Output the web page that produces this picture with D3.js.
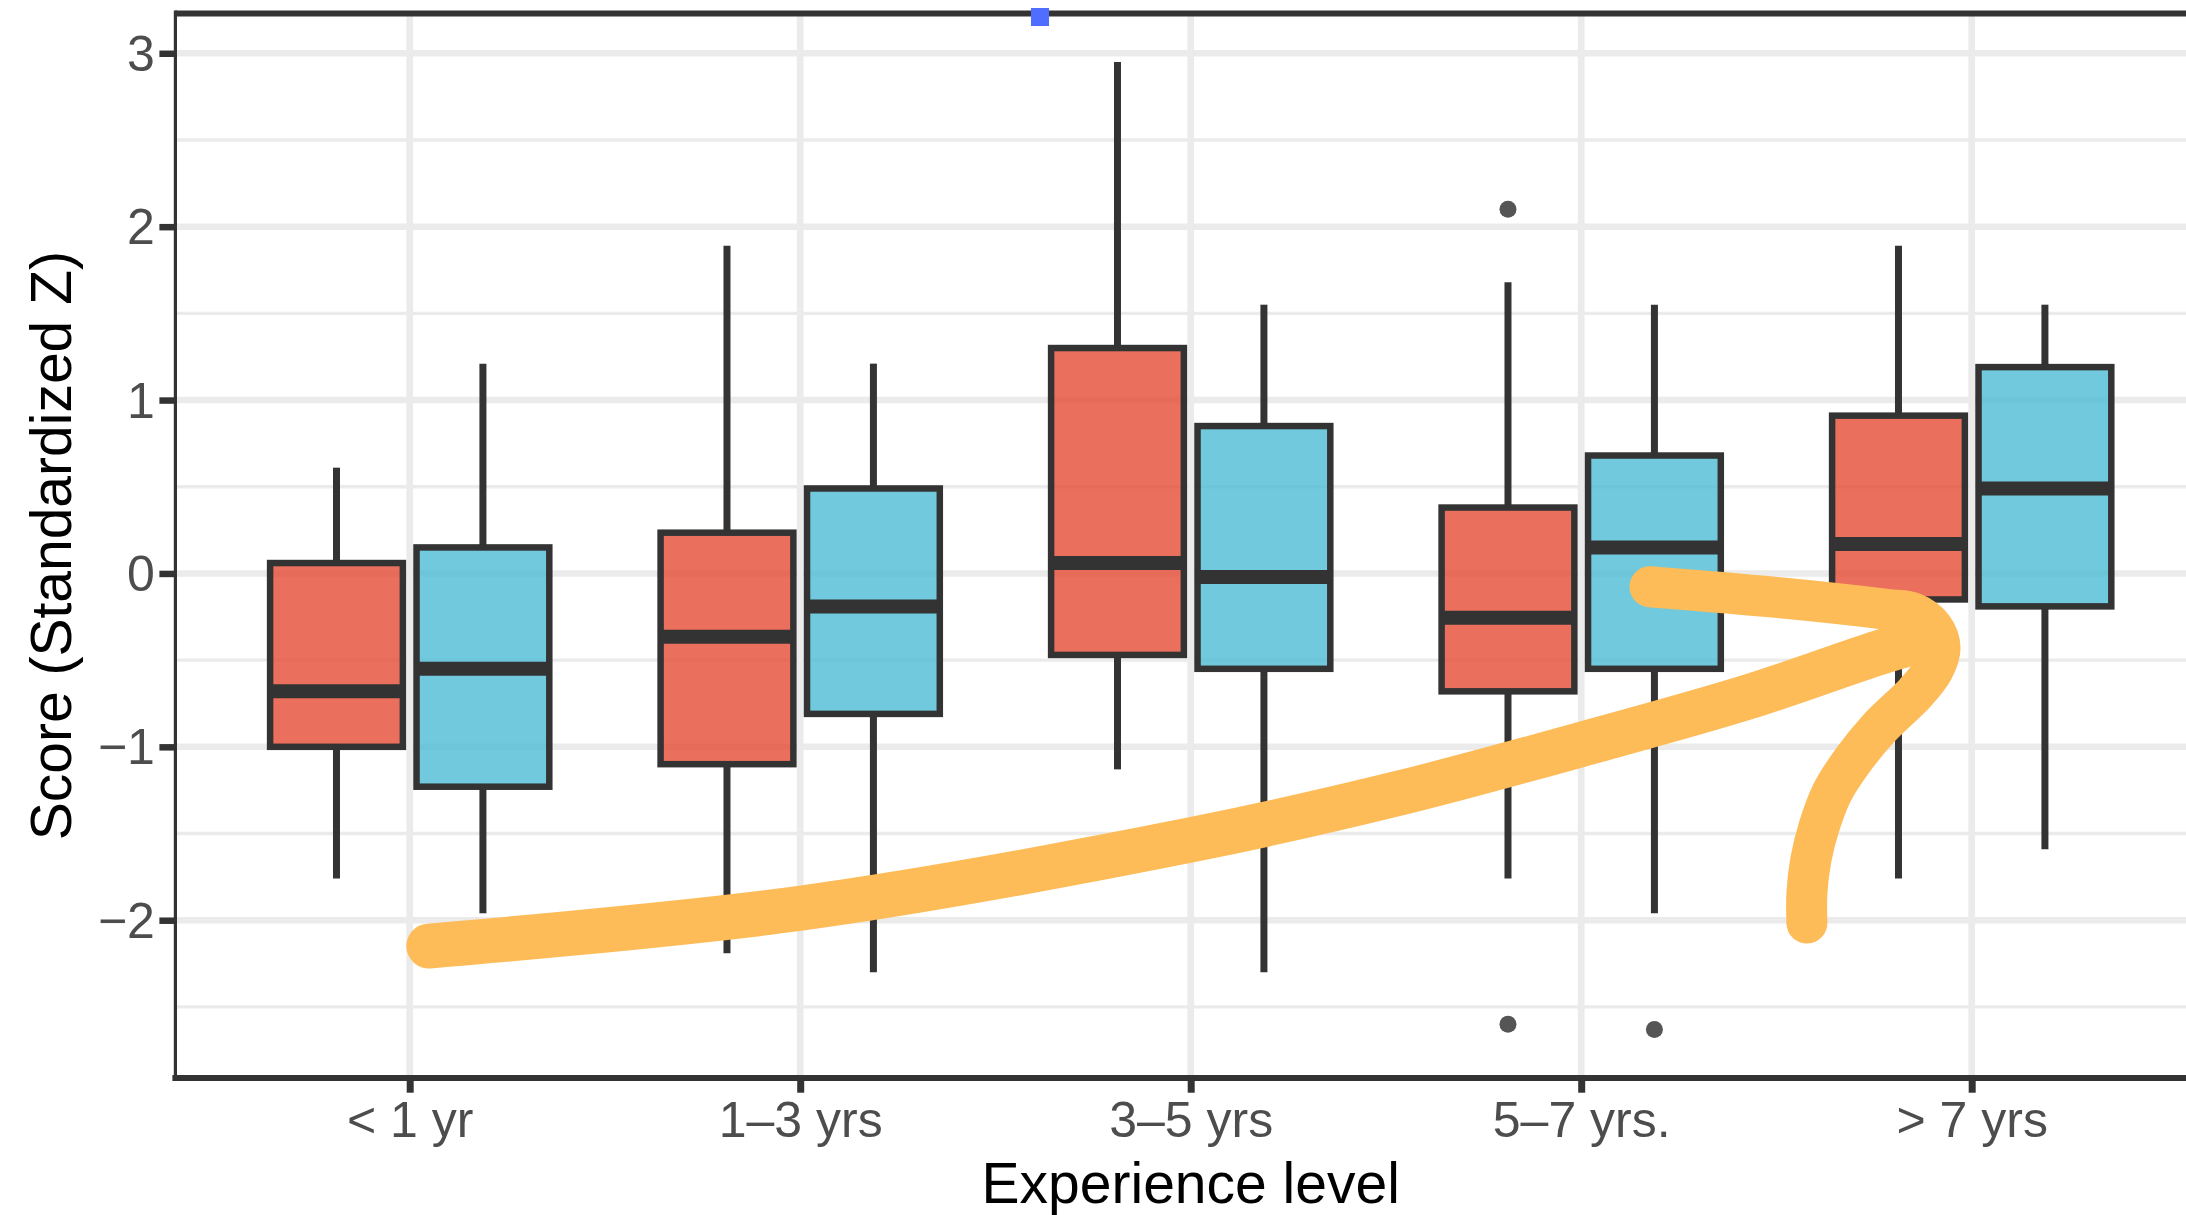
<!DOCTYPE html>
<html lang="en">
	<head>
		<meta charset="utf-8">
		<title>Score by experience level</title>
		<script src="https://d3js.org/d3.v7.min.js"></script>
		<style>
			body { margin: 0; background: #fff; }
			text { font-family: "Liberation Sans", Arial, sans-serif; }
		</style>
	</head>
	<body>
		<script type="text/javascript">

			// categories and tick values
			var categories = ["< 1 yr", "1\u20133 yrs", "3\u20135 yrs", "5\u20137 yrs.", "> 7 yrs"];
			var yTicks = [-2, -1, 0, 1, 2, 3];
			var yMinor = [-2.5, -1.5, -0.5, 0.5, 1.5, 2.5];

			// red series: whisker low, Q1, median, Q3, whisker high
			var redLow  = [-1.76, -2.19, -1.13, -1.76, -1.76];
			var redQ1   = [-1.00, -1.10, -0.47, -0.68, -0.15];
			var redMed  = [-0.68, -0.365, 0.06, -0.255, 0.17];
			var redQ3   = [0.06, 0.235, 1.30, 0.38, 0.91];
			var redHigh = [0.61, 1.89, 2.95, 1.68, 1.89];

			// blue series
			var blueLow  = [-1.96, -2.30, -2.30, -1.96, -1.59];
			var blueQ1   = [-1.23, -0.81, -0.55, -0.55, -0.19];
			var blueMed  = [-0.55, -0.19, -0.02, 0.15, 0.49];
			var blueQ3   = [0.15, 0.49, 0.85, 0.68, 1.19];
			var blueHigh = [1.21, 1.21, 1.55, 1.55, 1.55];

			// outliers: [category index, value]
			var redOutliers  = [[3, 2.10], [3, -2.60]];
			var blueOutliers = [[3, -2.63]];

			// hand drawn arrow, in (category index, value) units
			var arrowShaft = [[0.049, -2.149], [1.0, -1.931], [2.0, -1.537], [2.536, -1.266],
				[3.002, -0.985], [3.435, -0.707], [3.768, -0.453], [3.893, -0.373]];
			var arrowHook = [[3.176, -0.077], [3.526, -0.144], [3.782, -0.207], [3.850, -0.228],
				[3.901, -0.315], [3.919, -0.430], [3.901, -0.557], [3.855, -0.690], [3.765, -0.886],
				[3.696, -1.076], [3.642, -1.266], [3.609, -1.462], [3.588, -1.653], [3.578, -1.843],
				[3.578, -2.016]];

			var w = 2186;
			var h = 1215;
			var panel = {left: 175.4, top: 13.4, right: 2206, bottom: 1078};

			var svg = d3.select("body")
			  .append("svg")
			    .attr("width", w)
			    .attr("height", h);

			svg.append("rect").attr("width", w).attr("height", h).attr("fill", "white");

			// scales
			var xScale = d3.scalePoint()
			    .domain(d3.range(categories.length))
			    .range([panel.left, panel.right])
			    .padding(0.6);
			var step = xScale.step();
			var yScale = d3.scaleLinear()
			    .domain([-2.91, 3.23])
			    .range([panel.bottom, panel.top]);
			var xIdx = d3.scaleLinear().domain([0, 1]).range([xScale(0), xScale(1)]);

			// grid
			var grid = svg.append("g").attr("stroke", "#EBEBEB");
			grid.selectAll("line.minor").data(yMinor).enter().append("line")
			    .attr("x1", panel.left).attr("x2", w)
			    .attr("y1", d => yScale(d)).attr("y2", d => yScale(d))
			    .attr("stroke-width", 3.4);
			grid.selectAll("line.major").data(yTicks).enter().append("line")
			    .attr("x1", panel.left).attr("x2", w)
			    .attr("y1", d => yScale(d)).attr("y2", d => yScale(d))
			    .attr("stroke-width", 6.5);
			grid.selectAll("line.vert").data(d3.range(categories.length)).enter().append("line")
			    .attr("x1", d => xScale(d)).attr("x2", d => xScale(d))
			    .attr("y1", panel.top).attr("y2", panel.bottom)
			    .attr("stroke-width", 6.7);

			// boxes
			var boxW = 0.34 * step;
			var offset = 0.1875 * step;
			var series = [
				{fill: "#E64B35", dx: -offset, low: redLow, q1: redQ1, med: redMed, q3: redQ3, high: redHigh, out: redOutliers},
				{fill: "#4DBBD5", dx: offset, low: blueLow, q1: blueQ1, med: blueMed, q3: blueQ3, high: blueHigh, out: blueOutliers}
			];

			series.forEach(function(s) {
				var g = svg.append("g");
				var rows = categories.map((c, i) => ({i: i, low: s.low[i], q1: s.q1[i], med: s.med[i], q3: s.q3[i], high: s.high[i]}));
				var cx = d => xScale(d.i) + s.dx;

				g.selectAll("line.wup").data(rows).enter().append("line")
				    .attr("x1", cx).attr("x2", cx)
				    .attr("y1", d => yScale(d.q3)).attr("y2", d => yScale(d.high))
				    .attr("stroke", "#333333").attr("stroke-width", 7);
				g.selectAll("line.wdn").data(rows).enter().append("line")
				    .attr("x1", cx).attr("x2", cx)
				    .attr("y1", d => yScale(d.q1)).attr("y2", d => yScale(d.low))
				    .attr("stroke", "#333333").attr("stroke-width", 7);
				g.selectAll("rect").data(rows).enter().append("rect")
				    .attr("x", d => cx(d) - boxW / 2)
				    .attr("width", boxW)
				    .attr("y", d => yScale(d.q3))
				    .attr("height", d => yScale(d.q1) - yScale(d.q3))
				    .attr("fill", s.fill).attr("fill-opacity", 0.8)
				    .attr("stroke", "#333333").attr("stroke-width", 6.5);
				g.selectAll("line.med").data(rows).enter().append("line")
				    .attr("x1", d => cx(d) - boxW / 2).attr("x2", d => cx(d) + boxW / 2)
				    .attr("y1", d => yScale(d.med)).attr("y2", d => yScale(d.med))
				    .attr("stroke", "#333333").attr("stroke-width", 14);
				g.selectAll("circle").data(s.out).enter().append("circle")
				    .attr("cx", d => xScale(d[0]) + s.dx)
				    .attr("cy", d => yScale(d[1]))
				    .attr("r", 8.5)
				    .attr("fill", "#555555");
			});

			// panel border
			svg.append("line").attr("x1", panel.left).attr("x2", w).attr("y1", 13.4).attr("y2", 13.4)
			    .attr("stroke", "#333333").attr("stroke-width", 6);
			svg.append("line").attr("x1", panel.left - 3).attr("x2", w).attr("y1", panel.bottom).attr("y2", panel.bottom)
			    .attr("stroke", "#333333").attr("stroke-width", 6);
			svg.append("line").attr("x1", panel.left).attr("x2", panel.left).attr("y1", 10.4).attr("y2", panel.bottom)
			    .attr("stroke", "#333333").attr("stroke-width", 3.2);

			// axes
			var yAxis = svg.append("g")
			    .attr("transform", `translate(${panel.left},0)`)
			    .call(d3.axisLeft(yScale).tickValues(yTicks).tickFormat(d3.format("d")).tickSize(16).tickPadding(4.5));
			yAxis.select(".domain").remove();
			yAxis.selectAll("line").attr("stroke", "#333333").attr("stroke-width", 6.5);
			yAxis.selectAll("text")
			    .attr("fill", "#4D4D4D")
			    .attr("font-size", 50)
			    .attr("font-family", "Liberation Sans, Arial, sans-serif")
			    .attr("dy", "0.34em");

			var xAxis = svg.append("g")
			    .attr("transform", `translate(0,${panel.bottom})`)
			    .call(d3.axisBottom(xScale).tickFormat(i => categories[i]).tickSize(14.7));
			xAxis.select(".domain").remove();
			xAxis.selectAll("line").attr("stroke", "#333333").attr("stroke-width", 7);
			xAxis.selectAll("text")
			    .attr("fill", "#4D4D4D")
			    .attr("font-size", 50)
			    .attr("font-family", "Liberation Sans, Arial, sans-serif")
			    .attr("y", 58.7)
			    .attr("dy", null);

			// axis titles
			svg.append("text")
			    .attr("x", (panel.left + panel.right) / 2)
			    .attr("y", 1202.7)
			    .attr("text-anchor", "middle")
			    .attr("font-size", 57)
			    .attr("fill", "black")
			    .text("Experience level");
			svg.append("text")
			    .attr("transform", `translate(71,${(panel.top + panel.bottom) / 2}) rotate(-90)`)
			    .attr("text-anchor", "middle")
			    .attr("font-size", 57)
			    .attr("fill", "black")
			    .text("Score (Standardized Z)");

			// orange arrow drawn over the plot
			var arrowLine = d3.line()
			    .x(d => xIdx(d[0]))
			    .y(d => yScale(d[1]))
			    .curve(d3.curveCatmullRom);
			svg.append("path").attr("d", arrowLine(arrowShaft))
			    .attr("fill", "none").attr("stroke", "#FDBC58")
			    .attr("stroke-width", 45).attr("stroke-linecap", "round").attr("stroke-linejoin", "round");
			svg.append("path").attr("d", arrowLine(arrowHook))
			    .attr("fill", "none").attr("stroke", "#FDBC58")
			    .attr("stroke-width", 41).attr("stroke-linecap", "round").attr("stroke-linejoin", "round");

			// small selection handle on the top border
			svg.append("rect")
			    .attr("x", 1031).attr("y", 8).attr("width", 18).attr("height", 18)
			    .attr("fill", "#4F6EFF");

		</script>
	</body>
</html>
